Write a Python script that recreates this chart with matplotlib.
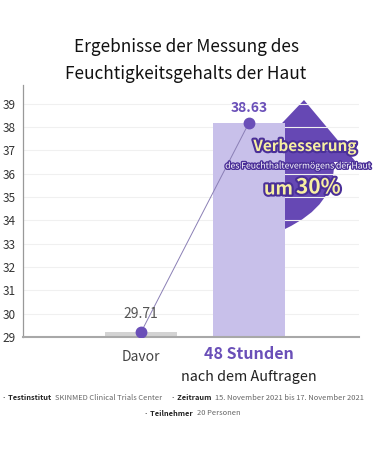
import matplotlib
matplotlib.use("Agg")
import matplotlib.pyplot as plt
from matplotlib.path import Path
from matplotlib.patches import PathPatch
import matplotlib.patheffects as pe
from matplotlib.transforms import Affine2D

plt.rcParams['font.family'] = ['Noto Sans CJK KR', 'DejaVu Sans']

# ---- data ----
categories = ["Davor", "48 Stunden"]
sublabels = ["", "nach dem Auftragen"]
bar_tops = [29.2, 38.18]          # bar heights as drawn in the picture
value_labels = ["29.71", "38.63"]  # annotated values
y_ticks = [29, 30, 31, 32, 33, 34, 35, 36, 37, 38, 39]
title_lines = ["Ergebnisse der Messung des", "Feuchtigkeitsgehalts der Haut"]

PURPLE = "#6a4fb8"
DARK_PURPLE = "#6648b4"
LAVENDER = "#c8c0ea"
GRAY_BAR = "#d3d3d3"

W, H = 375, 450
fig = plt.figure(figsize=(W / 100, H / 100), dpi=100)
ax = fig.add_axes([23 / W, 1 - 337 / H, (359 - 23) / W, (337 - 85) / H])

# pixel (top-left origin) -> figure transform, for decorative shapes
px = Affine2D().scale(1 / W, -1 / H).translate(0, 1) + fig.transFigure

# curved arrow (decoration behind the tall bar)
verts = [(304, 100), (356, 162), (334, 162), (336, 205), (285, 229),
         (275, 200), (262, 162), (245, 162), (304, 100)]
codes = [Path.MOVETO, Path.LINETO, Path.LINETO, Path.CURVE3, Path.CURVE3,
         Path.CURVE3, Path.CURVE3, Path.LINETO, Path.CLOSEPOLY]
arrow = PathPatch(Path(verts, codes), facecolor=DARK_PURPLE, edgecolor='none',
                  transform=px, zorder=1)
fig.add_artist(arrow)
ax.set_zorder(2)
ax.patch.set_alpha(0)

x = [0, 1]
ax.bar(x, [t - 29 for t in bar_tops], bottom=29, width=0.667,
       color=[GRAY_BAR, LAVENDER], zorder=2)
ax.plot(x, bar_tops, color="#8a7fb5", lw=0.7, zorder=3)
ax.plot(x, bar_tops, 'o', color=PURPLE, ms=7.5, zorder=4)

ax.text(x[0], bar_tops[0] + 0.8, value_labels[0], ha='center', va='center',
        fontsize=10, color="#555555", zorder=5)
ax.text(x[1], bar_tops[1] + 0.65, value_labels[1], ha='center', va='center',
        fontsize=10, color=PURPLE, fontweight='bold', zorder=5)

ax.set_xlim(-1.093, 2.019)
ax.set_ylim(29, 39.8)
ax.set_yticks(y_ticks)
ax.set_xticks([])
ax.tick_params(axis='y', length=0, pad=5, labelsize=8.5, labelcolor="#333333")
ax.grid(axis='y', color="#f0f0f0", lw=0.8, zorder=0)
for s in ['top', 'right']:
    ax.spines[s].set_visible(False)
ax.spines['left'].set_color("#999999")
ax.spines['left'].set_linewidth(0.9)
ax.spines['bottom'].set_color("#a8a8a8")
ax.spines['bottom'].set_linewidth(1.5)

# category labels
def ptext(xp, yp, s, **kw):
    return fig.text(xp / W, 1 - yp / H, s, **kw)

ptext(141, 357, categories[0], ha='center', va='center', fontsize=10, color="#444444")
ptext(249, 354, categories[1], ha='center', va='center', fontsize=11.5,
      color=PURPLE, fontweight='bold')
ptext(249, 377, sublabels[1], ha='center', va='center', fontsize=10.3, color="#222222")

# title
ptext(186, 47, title_lines[0], ha='center', va='center', fontsize=12.4, color="#111111")
ptext(186, 74, title_lines[1], ha='center', va='center', fontsize=12.4, color="#111111")

# overlay text on arrow
stroke = [pe.withStroke(linewidth=3, foreground="#4a2f98")]
ptext(305, 146, "Verbesserung", ha='center', va='center', fontsize=11,
      fontweight='bold', color="#f7efa2", path_effects=stroke, zorder=10)
ptext(298, 166, "des Feuchthaltevermögens der Haut", ha='center', va='center',
      fontsize=6.2, color="white",
      path_effects=[pe.withStroke(linewidth=2, foreground="#4a2f98")], zorder=10)
ptext(293, 189, "um", ha='right', va='center', fontsize=13,
      fontweight='bold', color="#f7efa2", path_effects=stroke, zorder=10)
ptext(296, 187, "30%", ha='left', va='center', fontsize=15,
      fontweight='bold', color="#f7efa2", path_effects=stroke, zorder=10)

# footer with mixed styles
renderer = fig.canvas.get_renderer()

def text_row(yp, parts, cx=W / 2):
    objs = []
    widths = []
    for s, bold, color, gap in parts:
        t = ptext(0, yp, s, ha='left', va='center', fontsize=5.4, color=color,
                  fontweight='bold' if bold else 'normal')
        objs.append(t)
        widths.append(t.get_window_extent(renderer).width)
    total = sum(widths) + sum(p[3] for p in parts)
    cur = cx - total / 2
    for t, w, p in zip(objs, widths, parts):
        cur += p[3]
        t.set_x(cur / W)
        cur += w

text_row(398, [("· Testinstitut", True, "#222222", 0),
               ("SKINMED Clinical Trials Center", False, "#666666", 4),
               ("· Zeitraum", True, "#222222", 9),
               ("15. November 2021 bis 17. November 2021", False, "#666666", 4)],
         cx=183)
text_row(413, [("· Teilnehmer", True, "#222222", 0),
               ("20 Personen", False, "#666666", 4)], cx=192)

fig.savefig("out.png", dpi=100)
